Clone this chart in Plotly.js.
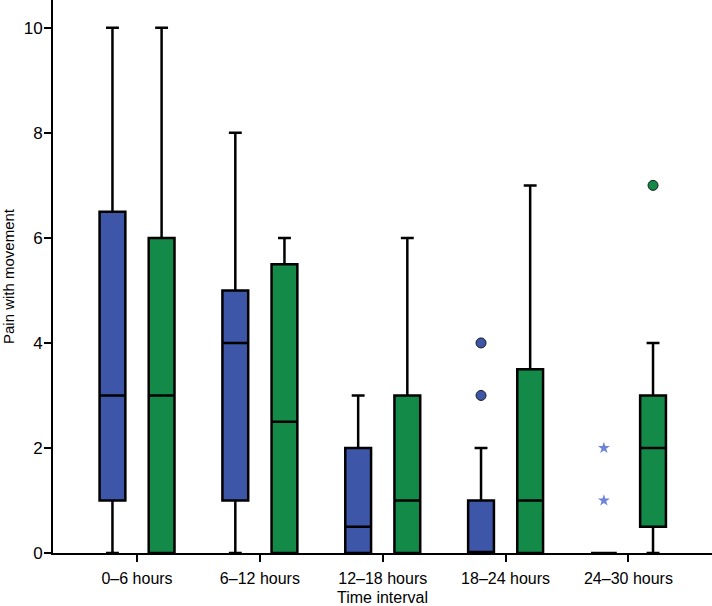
<!DOCTYPE html>
<html>
<head>
<meta charset="utf-8">
<script src="https://cdn.plot.ly/plotly-3.0.1.min.js"></script>
<style>html,body{margin:0;padding:0;background:#fff;}#chart{width:712px;height:606px;}</style>
</head>
<body>
<div id="chart"></div>
<script>
// Categories (x tick labels)
const categories = ["0–6 hours", "6–12 hours", "12–18 hours", "18–24 hours", "24–30 hours"];

// Blue group box statistics
const blueLower  = [0, 0, 0, 0, 0];
const blueQ1     = [1, 1, 0, 0, 0];
const blueMedian = [3, 4, 0.5, 0, 0];
const blueQ3     = [6.5, 5, 2, 1, 0];
const blueUpper  = [10, 8, 3, 2, 0];

// Green group box statistics
const greenLower  = [0, 0, 0, 0, 0];
const greenQ1     = [0, 0, 0, 0, 0.5];
const greenMedian = [3, 2.5, 1, 1, 2];
const greenQ3     = [6, 5.5, 3, 3.5, 3];
const greenUpper  = [10, 6, 6, 7, 4];

// Outliers (category index, value)
const blueOutlierCat = [3, 3];
const blueOutlierVal = [3, 4];
const blueExtremeCat = [4, 4];
const blueExtremeVal = [1, 2];
const greenOutlierCat = [4];
const greenOutlierVal = [7];

const yTicks = [0, 2, 4, 6, 8, 10];

const BLUE = "#3d56a8";
const GREEN = "#138a48";
const STAR = "#6f84d6";
const OFF = 0.2;     // offset of each box from category centre
const BW = 0.21;     // box width

const idx = categories.map((c, i) => i);
const bx = idx.map(i => i - OFF);
const gx = idx.map(i => i + OFF);

const boxCommon = {
  type: "box",
  width: BW,
  whiskerwidth: 0.5,
  line: {color: "#000", width: 2.5},
  boxpoints: false,
  hoverinfo: "skip",
  showlegend: false
};

const traces = [
  Object.assign({}, boxCommon, {
    x: bx, q1: blueQ1, median: blueMedian, q3: blueQ3,
    lowerfence: blueLower, upperfence: blueUpper,
    fillcolor: BLUE
  }),
  Object.assign({}, boxCommon, {
    x: gx, q1: greenQ1, median: greenMedian, q3: greenQ3,
    lowerfence: greenLower, upperfence: greenUpper,
    fillcolor: GREEN
  }),
  {
    type: "scatter", mode: "markers",
    x: blueOutlierCat.map(i => i - OFF), y: blueOutlierVal,
    marker: {symbol: "circle", size: 10, color: BLUE, line: {color: "#1a1a1a", width: 1}},
    showlegend: false, hoverinfo: "skip"
  },
  {
    type: "scatter", mode: "markers",
    x: blueExtremeCat.map(i => i - OFF), y: blueExtremeVal,
    marker: {symbol: "star", size: 9, color: STAR, line: {width: 0}},
    showlegend: false, hoverinfo: "skip"
  },
  {
    type: "scatter", mode: "markers",
    x: greenOutlierCat.map(i => i + OFF), y: greenOutlierVal,
    marker: {symbol: "circle", size: 10, color: GREEN, line: {color: "#1a1a1a", width: 1}},
    showlegend: false, hoverinfo: "skip"
  }
];

const layout = {
  width: 712, height: 606,
  margin: {l: 53, r: 0, t: 0, b: 53},
  paper_bgcolor: "#fff", plot_bgcolor: "#fff",
  font: {family: "Liberation Sans, Arial, sans-serif", color: "#000"},
  xaxis: {
    range: [-0.684, 4.68],
    tickvals: idx, ticktext: categories,
    showgrid: false, zeroline: false,
    showline: true, linecolor: "#000", linewidth: 2,
    ticks: "outside", ticklen: 7, tickwidth: 2, tickcolor: "#000",
    ticklabelstandoff: 3,
    tickfont: {size: 16},
    automargin: false,
    title: {text: "Time interval", font: {size: 16}, standoff: 8}
  },
  yaxis: {
    range: [0, 10.53],
    tickvals: yTicks,
    showgrid: false, zeroline: false,
    showline: true, linecolor: "#000", linewidth: 2,
    ticks: "outside", ticklen: 7, tickwidth: 2, tickcolor: "#000",
    ticklabelstandoff: -2,
    tickfont: {size: 17},
    automargin: false,
    title: {text: "Pain with movement", font: {size: 15}, standoff: 6}
  }
};

Plotly.newPlot("chart", traces, layout, {staticPlot: true, displayModeBar: false});
</script>
</body>
</html>
